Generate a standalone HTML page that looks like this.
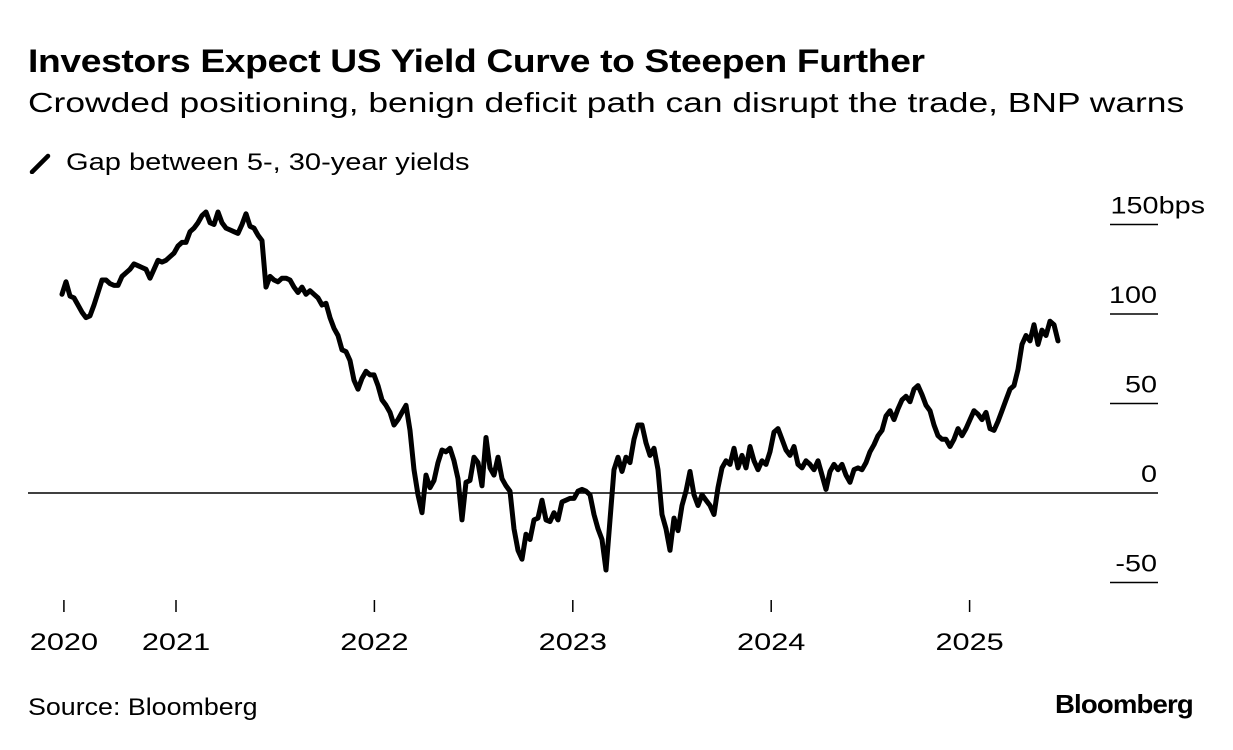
<!DOCTYPE html>
<html><head><meta charset="utf-8">
<style>
body{margin:0;background:#fff;width:1233px;height:750px;overflow:hidden;font-family:"Liberation Sans",Arial,sans-serif;color:#000}
.t{position:absolute;white-space:nowrap;transform-origin:0 50%}
</style></head>
<body>
<div class="t" style="left:28px;top:43px;font-size:32px;font-weight:bold;letter-spacing:-0.3px;transform:scaleX(1.163)">Investors Expect US Yield Curve to Steepen Further</div>
<div class="t" style="left:28px;top:87px;font-size:28px;transform:scaleX(1.264)">Crowded positioning, benign deficit path can disrupt the trade, BNP warns</div>
<svg width="28" height="22" style="position:absolute;left:28px;top:152px"><line x1="4" y1="20" x2="20" y2="4" stroke="#000" stroke-width="4.5" stroke-linecap="round"/></svg>
<div class="t" style="left:66px;top:149px;font-size:24px;transform:scaleX(1.21)">Gap between 5-, 30-year yields</div>
<svg id="chart" width="1233" height="750" style="position:absolute;left:0;top:0"></svg>
<div class="t" style="left:28px;top:694px;font-size:24px;transform:scaleX(1.117)">Source: Bloomberg</div>
<div class="t" style="left:1055px;top:689px;font-size:26px;font-weight:bold;letter-spacing:-0.8px;transform:scaleX(1.06)">Bloomberg</div>
<script>
const startYear = 2020.4254;
const stepYears = 1/49.6;
const values = [111,118,110,109,105,101,98,99,105,112,119,119,117,116,116,121,123,125,128,127,126,125,120,125,130,129,130,132,134,138,140,140,146,148,151,155,157,151,150,157,151,148,147,146,145,150,156,149,148,144,141,115,121,119,118,120,120,119,115,112,115,111,113,111,109,105,106,98,92,88,80,79,74,63,58,64,68,66,66,60,52,49,45,38,41,45,49,35,13,-1,-11,10,3,7,17,24,23,25,18,8,-15,6,7,20,17,4,31,14,10,20,8,4,1,-20,-32,-37,-23,-26,-15,-14,-4,-15,-16,-11,-15,-5,-4,-3,-3,1,2,1,-1,-12,-20,-26,-43,-15,13,20,12,20,17,30,38,38,28,21,25,13,-12,-20,-32,-14,-21,-7,1,12,-1,-7,-1,-4,-7,-12,3,14,18,16,25,14,21,14,26,18,13,18,16,23,34,36,30,24,21,26,16,14,18,16,13,18,10,2,12,16,13,16,10,6,13,14,13,17,23,27,32,35,43,46,41,47,52,54,51,58,60,55,49,46,38,32,30,30,26,30,36,32,36,41,46,44,41,45,36,35,40,46,52,58,60,69,83,88,85,94,83,91,88,96,94,85];
const xTickYears = [2020.435,2021,2022,2023,2024,2025];
const xTickLabels = ["2020","2021","2022","2023","2024","2025"];
const yTickValues = [150,100,50,0,-50];
const yTickLabels = ["150bps","100","50","0","-50"];

const NS="http://www.w3.org/2000/svg";
const svg=document.getElementById('chart');
function x(yr){return 176+(yr-2021)*198.4;}
function y(v){return 493-v*1.79;}
function mk(tag,attrs){const e=document.createElementNS(NS,tag);for(const k in attrs)e.setAttribute(k,attrs[k]);svg.appendChild(e);return e;}

yTickValues.forEach((v,i)=>{
  if(v===0){
    const z=mk('line',{x1:28,x2:1158,y1:y(0),y2:y(0),stroke:'#000','stroke-width':1.5});
    
    
  } else {
    const l=mk('line',{x1:1110,x2:1158,y1:y(v),y2:y(v),stroke:'#000','stroke-width':1.5});
    
    
  }
  const tx = i===0 ? 1205 : 1157;
  const t=mk('text',{x:0,y:0,'text-anchor':'end','font-size':24,'font-family':'Liberation Sans, Arial, sans-serif',transform:'translate('+tx+','+(y(v)-11)+') scale(1.2,1)'});
  t.textContent=yTickLabels[i];
  
  
});

xTickYears.forEach((yr,i)=>{
  const l=mk('line',{x1:x(yr),x2:x(yr),y1:600,y2:612,stroke:'#000','stroke-width':1.5});
  
  
  const t=mk('text',{x:0,y:0,'text-anchor':'middle','font-size':24,'font-family':'Liberation Sans, Arial, sans-serif',transform:'translate('+x(yr)+',650) scale(1.28,1)'});
  t.textContent=xTickLabels[i];
  
  
});

let d='';
values.forEach((v,i)=>{d+=(i?'L':'M')+x(startYear+i*stepYears).toFixed(1)+','+y(v).toFixed(1);});
const p=mk('path',{d:d,fill:'none',stroke:'#000','stroke-width':5,'stroke-linejoin':'round','stroke-linecap':'round'});


</script>
</body></html>
